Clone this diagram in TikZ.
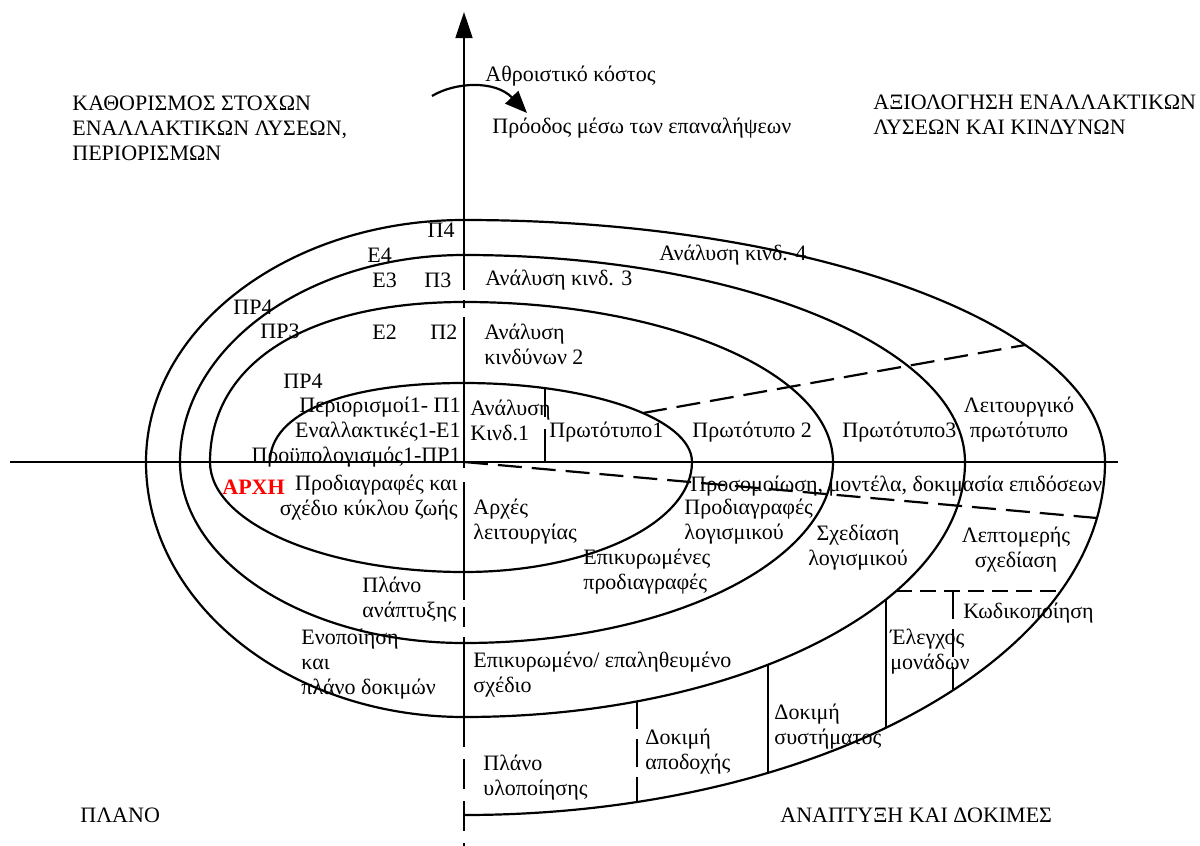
\documentclass[tikz,border=0pt]{standalone}
\usepackage{fontspec}
\setmainfont{Liberation Serif}
\usetikzlibrary{arrows.meta, positioning}

\begin{document}
\begin{tikzpicture}[
        x=0.5pt, y=-0.5pt,
        font=\fontsize{11}{12.5}\selectfont,
        >=Triangle,
        spiral/.style={line width=1.1pt},
        axis/.style={line width=0.8pt},
        divider/.style={line width=1.3pt},
        ddivider/.style={line width=1.3pt, dash pattern=on 14pt off 5pt},
        phase/.style={line width=1.1pt, dash pattern=on 12pt off 5pt},
        lbl/.style={inner sep=0pt, align=left},
        rlbl/.style={inner sep=0pt, align=right},
        clbl/.style={inner sep=0pt, align=center}
    ]
        \useasboundingbox (0,0) rectangle (1200,846);

        % axes
        \coordinate (O) at (464,462);
        \coordinate (xl) at (10,462);
        \coordinate (xr) at (1118,462);
        \coordinate (ytop) at (464,12);
        \coordinate (ybot) at (464,846);
        \draw[axis] (xl) -- (xr);
        \draw[axis, -{Triangle[length=13pt, width=8.5pt]}] (464,290) -- (ytop);
        \foreach \a/\b in {300/308, 317/468, 482/600, 607/627, 637/717}
            \draw[axis] (464,\a) -- (464,\b);
        \draw[axis, dash pattern=on 15pt off 6pt] (464,717) -- (ybot);

        % spiral
        \draw[spiral] (270,462)
            .. controls (270,413) and (344,383) .. (464,383)
            arc[start angle=270, end angle=360, x radius=228, y radius=79]
            arc[start angle=0, end angle=90, x radius=228, y radius=110]
            arc[start angle=90, end angle=180, x radius=254, y radius=110]
            .. controls (210,363) and (307,302) .. (464,302)
            arc[start angle=270, end angle=360, x radius=369, y radius=160]
            arc[start angle=0, end angle=90, x radius=369, y radius=181]
            arc[start angle=90, end angle=180, x radius=284, y radius=181]
            arc[start angle=180, end angle=270, x radius=284, y radius=207]
            arc[start angle=270, end angle=360, x radius=501, y radius=207]
            arc[start angle=0, end angle=90, x radius=501, y radius=255]
            arc[start angle=90, end angle=180, x radius=318, y radius=255]
            arc[start angle=180, end angle=270, x radius=318, y radius=242]
            arc[start angle=270, end angle=360, x radius=641, y radius=242]
            arc[start angle=0, end angle=90, x radius=641, y radius=353];

        % phase borders
        \draw[phase] (643,413) -- (1025,345);
        \draw[phase] (O) -- (1097,518);
        \draw[line width=1.1pt, dash pattern=on 8pt off 4pt] (896,591) -- (1061,591);
        \draw[divider] (545,388) -- (545,417);
        \draw[divider] (545,429) -- (545,462);
        \draw[ddivider] (637,701) -- (637,802);
        \draw[divider] (768,665) -- (768,773);
        \draw[divider] (886,600) -- (886,728);
        \draw[ddivider] (953,591) -- (953,690);

        % cumulative cost arrow
        \coordinate (cs) at (432,96);
        \coordinate (ce) at (527,113);
        \draw[line width=1.1pt, -{Triangle[length=11pt, width=9pt]}] (cs) .. controls (455,82) and (495,80) .. (ce);
        \node[lbl, anchor=west] (cost) at (485,76) {Αθροιστικό κόστος};
        \node[lbl, anchor=west] (progress) at (492,128) {Πρόοδος μέσω των επαναλήψεων};

        % quadrants
        \node[lbl, anchor=west] (goals) at (72,128) {ΚΑΘΟΡΙΣΜΟΣ ΣΤΟΧΩΝ\\ΕΝΑΛΛΑΚΤΙΚΩΝ ΛΥΣΕΩΝ,\\ΠΕΡΙΟΡΙΣΜΩΝ};
        \node[lbl, anchor=west] (evaluation) at (873,115) {ΑΞΙΟΛΟΓΗΣΗ ΕΝΑΛΛΑΚΤΙΚΩΝ\\ΛΥΣΕΩΝ ΚΑΙ ΚΙΝΔΥΝΩΝ};
        \node[lbl, anchor=west] (plan) at (80,815) {ΠΛΑΝΟ};
        \node[lbl, anchor=west] (develop) at (780,815) {ΑΝΑΠΤΥΞΗ ΚΑΙ ΔΟΚΙΜΕΣ};

        % upper left
        \node[lbl, anchor=east] (p4) at (455,230) {Π4};
        \node[lbl, anchor=west] (e4) at (367,255) {Ε4};
        \node[lbl, anchor=west] (e3) at (372,280) {Ε3};
        \node[lbl, anchor=west] (p3) at (424,280) {Π3};
        \node[lbl, anchor=west] (pr4a) at (233,307) {ΠΡ4};
        \node[lbl, anchor=west] (pr3) at (260,331) {ΠΡ3};
        \node[lbl, anchor=west] (e2) at (372,332) {Ε2};
        \node[lbl, anchor=west] (p2) at (430,332) {Π2};
        \node[lbl, anchor=west] (pr4b) at (283,381) {ΠΡ4};
        \node[rlbl, anchor=east] (round1) at (461,432) {Περιορισμοί1- Π1\\Εναλλακτικές1-Ε1\\Προϋπολογισμός1-ΠΡ1};

        % upper right
        \node[lbl, anchor=west] (risk4) at (659,255) {Ανάλυση κινδ. 4};
        \node[lbl, anchor=west] (risk3) at (485,280) {Ανάλυση κινδ. 3};
        \node[lbl, anchor=west] (risk2) at (484,344) {Ανάλυση\\κινδύνων 2};
        \node[lbl, anchor=west] (risk1) at (470,420) {Ανάλυση\\Κινδ.1};
        \node[lbl, anchor=west] (proto1) at (549,432) {Πρωτότυπο1};
        \node[lbl, anchor=west] (proto2) at (692,432) {Πρωτότυπο 2};
        \node[lbl, anchor=west] (proto3) at (842,432) {Πρωτότυπο3};
        \node[clbl] (opproto) at (1019,420) {Λειτουργικό\\πρωτότυπο};

        % lower left
        \node[lbl, anchor=west, text=red, font=\fontsize{11}{12.5}\selectfont\bfseries] (start) at (222,487) {ΑΡΧΗ};
        \node[rlbl, anchor=east] (lifecycle) at (458,498) {Προδιαγραφές και\\σχέδιο κύκλου ζωής};
        \node[lbl, anchor=west] (devplan) at (362,600) {Πλάνο\\ανάπτυξης};
        \node[lbl, anchor=west] (integ) at (301,664) {Ενοποίηση\\και\\πλάνο δοκιμών};

        % lower right
        \node[lbl, anchor=west] (sim) at (690,486) {Προσομοίωση, μοντέλα, δοκιμασία επιδόσεων};
        \node[lbl, anchor=west] (concept) at (473,522) {Αρχές\\λειτουργίας};
        \node[lbl, anchor=west] (swreq) at (684,522) {Προδιαγραφές\\λογισμικού};
        \node[lbl, anchor=west] (valreq) at (583,572) {Επικυρωμένες\\προδιαγραφές};
        \node[clbl] (swdesign) at (858,548) {Σχεδίαση\\λογισμικού};
        \node[clbl] (detail) at (1016,550) {Λεπτομερής\\σχεδίαση};
        \node[lbl, anchor=west] (code) at (963,613) {Κωδικοποίηση};
        \node[lbl, anchor=west] (unit) at (890,652) {Έλεγχος\\μονάδων};
        \node[lbl, anchor=west] (verdesign) at (473,675) {Επικυρωμένο/ επαληθευμένο\\σχέδιο};
        \node[lbl, anchor=west] (systest) at (774,727) {Δοκιμή\\συστήματος};
        \node[lbl, anchor=west] (acctest) at (645,752) {Δοκιμή\\αποδοχής};
        \node[lbl, anchor=west] (implplan) at (483,778) {Πλάνο\\υλοποίησης};
    \end{tikzpicture}
\end{document}
